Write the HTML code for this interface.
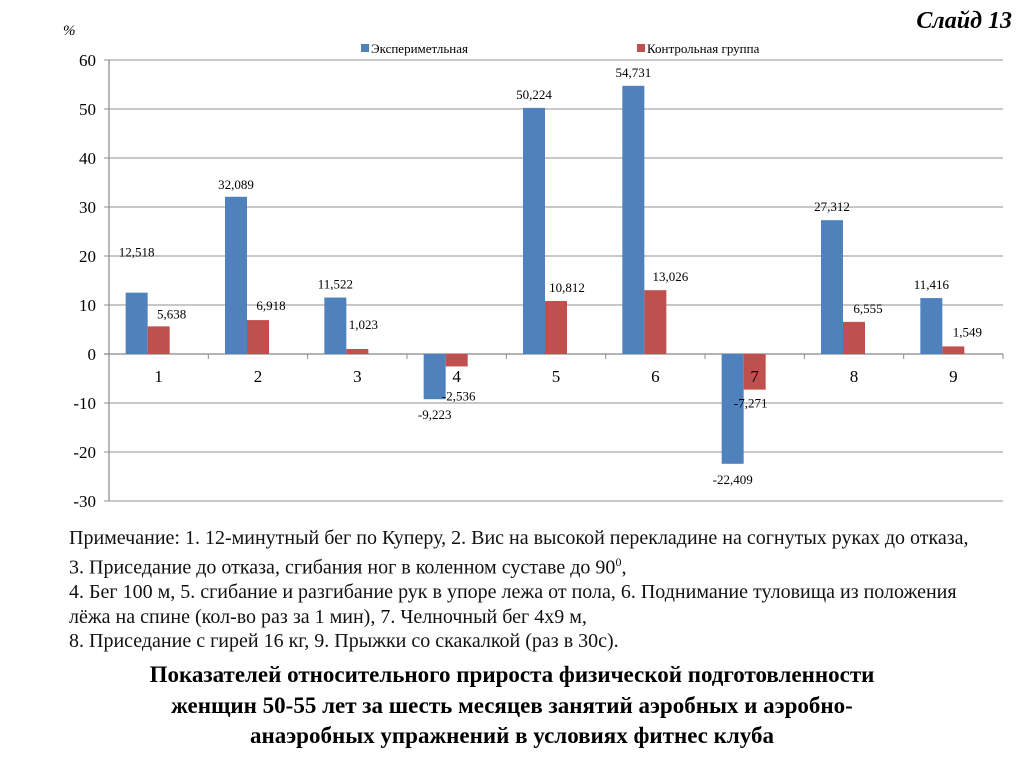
<!DOCTYPE html>
<html><head><meta charset="utf-8"><style>
body{margin:0;width:1024px;height:767px;background:#fff;overflow:hidden;font-family:"Liberation Serif",serif;position:relative}
#slide{position:absolute;right:12px;top:8px;font-size:24px;font-weight:bold;font-style:italic}
#note{position:absolute;left:69px;top:526px;font-size:20px;line-height:24.3px;color:#111;white-space:nowrap}
#title{position:absolute;left:0;width:1024px;top:660px;text-align:center;font-size:23px;font-weight:bold;line-height:30.5px}
</style></head><body>
<div id="slide">Слайд  13</div>
<svg id="chart" width="1024" height="520" style="position:absolute;left:0;top:0" font-family="Liberation Serif, serif"></svg>
<div id="note">Примечание:  1. 12-минутный бег по Куперу, 2. Вис на  высокой перекладине на согнутых руках до отказа,<br>3. Приседание до отказа, сгибания ног в коленном суставе до 90<sup style="font-size:12px">0</sup>,<br>4. Бег 100 м, 5. сгибание и разгибание рук в упоре лежа от пола, 6. Поднимание туловища из положения<br>лёжа на спине (кол-во раз за 1 мин), 7. Челночный бег 4х9 м,<br>8. Приседание с гирей 16 кг, 9. Прыжки со скакалкой (раз в 30с).</div>
<div id="title">Показателей относительного прироста физической подготовленности<br>женщин 50-55 лет  за шесть месяцев занятий аэробных и аэробно-<br>анаэробных упражнений в условиях фитнес клуба</div>
<script>
const categories=["1","2","3","4","5","6","7","8","9"];
const expValues=[12.518,32.089,11.522,-9.223,50.224,54.731,-22.409,27.312,11.416];
const ctrlValues=[5.638,6.918,1.023,-2.536,10.812,13.026,-7.271,6.555,1.549];
const expLabels=["12,518","32,089","11,522","-9,223","50,224","54,731","-22,409","27,312","11,416"];
const ctrlLabels=["5,638","6,918","1,023","-2,536","10,812","13,026","-7,271","6,555","1,549"];
const yTicks=[60,50,40,30,20,10,0,-10,-20,-30];
const seriesNames=["Экспериметльная","Контрольная группа"];
const expLblDy=[-41,-13,-14,15,-14,-14,15,-14,-14];
const ctrlLblDx=[13,13,6,2,11,15,-4,14,14];
const ctrlLblDy=[-13,-15,-25,29,-14,-14,13,-14,-15];
const svg=document.getElementById('chart');
const NS='http://www.w3.org/2000/svg';
const X0=109,X1=1003,cw=(X1-X0)/categories.length;
const y=v=>354-v*4.9;
const cx=i=>X0+cw*(i+0.5);
function el(t,a,txt){const e=document.createElementNS(NS,t);for(const k in a)e.setAttribute(k,a[k]);if(txt!=null)e.textContent=txt;svg.appendChild(e);return e;}
yTicks.forEach(t=>{
 const g=el('line',{x1:X0-5,x2:X1,y1:y(t),y2:y(t),stroke:t==0?'#888':'#a6a6a6','stroke-width':1.2});
 
 
 const l=el('text',{x:96,y:y(t)+6,'text-anchor':'end','font-size':17},String(t));
 
 
});
const ax=el('line',{x1:X0,x2:X0,y1:y(60),y2:y(-30),stroke:'#888','stroke-width':1.2});


const pc=el('text',{x:63,y:35,'font-size':15,'font-style':'italic'},'%');


for(let i=0;i<=categories.length;i++){
 const tk=el('line',{x1:X0+cw*i,x2:X0+cw*i,y1:354,y2:359,stroke:'#888'});
 
 
}
categories.forEach((c,i)=>{
 const c0=cx(i);
 const b=expValues[i],r=ctrlValues[i];
 const rb=el('rect',{x:c0-33,y:Math.min(y(0),y(b)),width:22,height:Math.abs(y(b)-y(0)),fill:'#4f81bd'});
 
 
 const rr=el('rect',{x:c0-11,y:Math.min(y(0),y(r)),width:22,height:Math.abs(y(r)-y(0)),fill:'#c0504d'});
 
 
 const xl=el('text',{x:c0,y:382,'text-anchor':'middle','font-size':17},c);
 
 
 const bl=el('text',{x:c0-22,y:y(b)+expLblDy[i]+5,'text-anchor':'middle','font-size':13},expLabels[i]);
 
 
 const cl=el('text',{x:c0+ctrlLblDx[i],y:y(r)+ctrlLblDy[i]+5,'text-anchor':'middle','font-size':13},ctrlLabels[i]);
 
 
});
const lg1=el('rect',{x:361,y:44,width:8,height:8,fill:'#4f81bd'});


const lt1=el('text',{x:371,y:53,'font-size':13},seriesNames[0]);


const lg2=el('rect',{x:637,y:44,width:8,height:8,fill:'#c0504d'});


const lt2=el('text',{x:647,y:53,'font-size':13},seriesNames[1]);


</script>
</body></html>
